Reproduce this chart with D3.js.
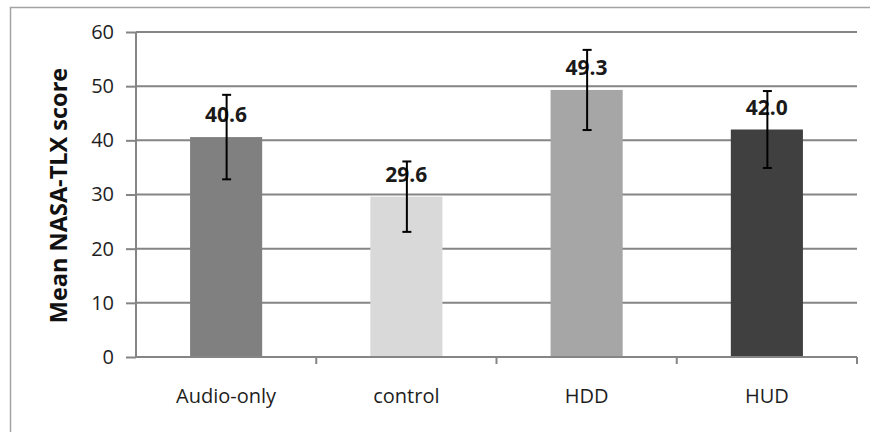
<!DOCTYPE html>
<html>
<head>
<meta charset="utf-8">
<script src="https://cdn.jsdelivr.net/npm/d3@7"></script>
<style>
  html, body { margin: 0; padding: 0; background: #fff; }
  svg { display: block; }
  text { font-family: "Open Sans", "Noto Sans", sans-serif; }
</style>
</head>
<body>
<svg id="chart" width="870" height="432"></svg>
<script>
const categories = ["Audio-only", "control", "HDD", "HUD"];
const means = [40.6, 29.6, 49.3, 42.0];
const errors = [7.8, 6.5, 7.4, 7.1];
const barColors = ["#808080", "#d9d9d9", "#a6a6a6", "#404040"];
const yTicks = [0, 10, 20, 30, 40, 50, 60];
const yTitle = "Mean NASA-TLX score";

const svg = d3.select("#chart");
const plotLeft = 136, plotRight = 857, plotTop = 32, plotBottom = 357;

// outer border
svg.append("rect")
  .attr("x", 10.5).attr("y", 7.5)
  .attr("width", 900).attr("height", 500)
  .attr("fill", "none").attr("stroke", "#a3a3a3").attr("stroke-width", 1.5);

const x = d3.scaleBand().domain(categories).range([plotLeft, plotRight])
  .paddingInner(0.6).paddingOuter(0.3);
const y = d3.scaleLinear().domain([0, 60]).range([plotBottom, plotTop]);

const gridColor = "#858585";

// gridlines
svg.append("g").selectAll("line").data(yTicks.filter(t => t > 0)).join("line")
  .attr("x1", plotLeft).attr("x2", plotRight)
  .attr("y1", d => y(d)).attr("y2", d => y(d))
  .attr("stroke", gridColor).attr("stroke-width", 2);

// y axis
const yAxis = svg.append("g").attr("transform", `translate(${plotLeft},0)`)
  .call(d3.axisLeft(y).tickValues(yTicks).tickSize(10).tickPadding(12));
yAxis.select(".domain").attr("stroke", gridColor).attr("stroke-width", 2)
  .attr("d", `M0,${plotTop}V${plotBottom}`);
yAxis.selectAll(".tick line").attr("stroke", gridColor).attr("stroke-width", 2);
yAxis.selectAll(".tick text").attr("font-size", 20).attr("fill", "#1e1e1e")
  .attr("font-family", "Open Sans");

// bars
svg.append("g").selectAll("rect").data(categories).join("rect")
  .attr("x", d => x(d)).attr("width", x.bandwidth())
  .attr("y", (d, i) => y(means[i])).attr("height", (d, i) => y(0) - y(means[i]))
  .attr("fill", (d, i) => barColors[i]);

// x axis
const xg = svg.append("g");
xg.append("line").attr("x1", plotLeft).attr("x2", plotRight).attr("y1", plotBottom).attr("y2", plotBottom)
  .attr("stroke", gridColor).attr("stroke-width", 2);
xg.selectAll("line.tk").data(categories).join("line").attr("class", "tk")
  .attr("x1", d => x(d) + x.bandwidth() / 2 + x.step() / 2)
  .attr("x2", d => x(d) + x.bandwidth() / 2 + x.step() / 2)
  .attr("y1", plotBottom).attr("y2", plotBottom + 7)
  .attr("stroke", gridColor).attr("stroke-width", 2);
xg.selectAll("text").data(categories).join("text")
  .attr("x", d => x(d) + x.bandwidth() / 2).attr("y", 403)
  .attr("text-anchor", "middle").attr("font-size", 20).attr("fill", "#1e1e1e")
  .text(d => d);

// value labels
svg.append("g").selectAll("text").data(categories).join("text")
  .attr("x", d => x(d) + x.bandwidth() / 2)
  .attr("y", (d, i) => y(means[i]) - 15)
  .attr("text-anchor", "middle").attr("font-size", 21).attr("font-weight", "bold")
  .attr("fill", "#1a1a1a")
  .text((d, i) => means[i].toFixed(1));

// error bars
const eb = svg.append("g").attr("stroke", "#000").attr("stroke-width", 2);
categories.forEach((c, i) => {
  const cx = x(c) + x.bandwidth() / 2 + 0.5;
  const hi = y(means[i] + errors[i]), lo = y(means[i] - errors[i]);
  eb.append("line").attr("x1", cx).attr("x2", cx).attr("y1", hi).attr("y2", lo);
  eb.append("line").attr("x1", cx - 4.5).attr("x2", cx + 4.5).attr("y1", hi).attr("y2", hi);
  eb.append("line").attr("x1", cx - 4.5).attr("x2", cx + 4.5).attr("y1", lo).attr("y2", lo);
});

// y title
svg.append("text")
  .attr("transform", `translate(67,${(68 + 323) / 2}) rotate(-90)`)
  .attr("text-anchor", "middle").attr("font-size", 23.5).attr("font-weight", "bold")
  .attr("fill", "#111")
  .text(yTitle);
</script>
</body>
</html>
